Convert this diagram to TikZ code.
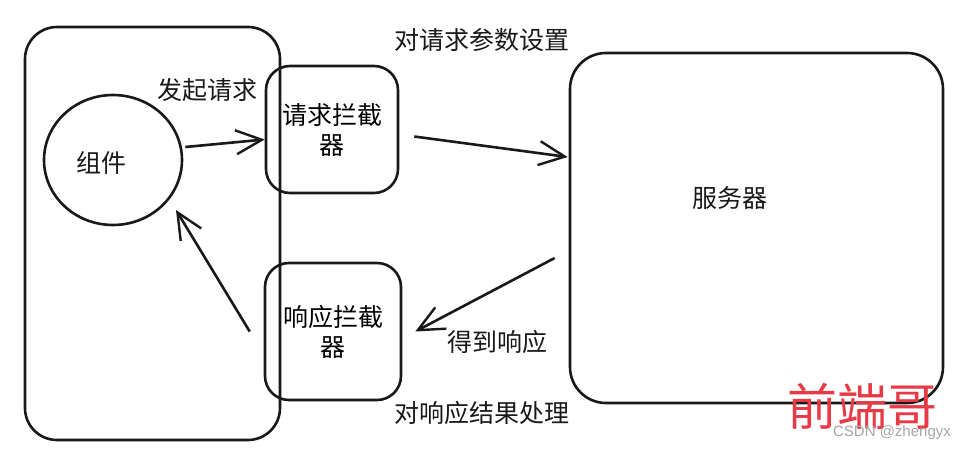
\documentclass[tikz,border=0pt]{standalone}
\usepackage{fontspec}
\setmainfont{Noto Sans CJK SC}
\newfontfamily\wmfont{Noto Sans CJK SC}
\newfontfamily\csdnfont{Liberation Sans}
\usetikzlibrary{arrows.meta,shapes.geometric}
\definecolor{ink}{RGB}{25,25,25}
\definecolor{wmred}{RGB}{232,58,70}
\tikzset{
  box/.style={draw=ink,line width=2.6pt,rounded corners=#1,inner sep=0pt,align=center,font=\fontsize{25}{30}\selectfont},
  lbl/.style={font=\fontsize{25}{30}\selectfont,text=ink,inner sep=0pt},
  arr/.style={draw=ink,line width=2.6pt,-{Straight Barb[length=26pt,width=24pt,line width=2.4pt]}},
}
\begin{document}
\begin{tikzpicture}[x=1pt,y=-1pt]
\useasboundingbox (0,0) rectangle (962,450);
\fill[white] (0,0) rectangle (962,450);
% containers
\node[box=32pt,minimum width=255pt,minimum height=413pt] (client) at (152.5,233.5) {};
\node[box=36pt,minimum width=373pt,minimum height=350pt] (server) at (756.5,228) {};
\node[lbl] (servertext) at (730,198) {服务器};
% component
\node[draw=ink,line width=2.6pt,ellipse,minimum width=138pt,minimum height=130pt,inner sep=0pt] (comp) at (113,160) {};
\node[lbl] (comptext) at (101,163) {组件};
% interceptors
\node[box=24pt,minimum width=132pt,minimum height=127pt] (req) at (332,129.5) {请求拦截\\器};
\node[box=24pt,minimum width=136pt,minimum height=137pt] (resp) at (333,331.5) {响应拦截\\器};
% labels
\node[lbl] (l1) at (207,90) {发起请求};
\node[lbl] (l2) at (482,40) {对请求参数设置};
\node[lbl] (l3) at (497,342) {得到响应};
\node[lbl] (l4) at (482,413) {对响应结果处理};
% connectors
\draw[arr] ([shift={(2pt,13pt)}]comp.east) -- ([yshift=-10pt]req.west);
\draw[arr] ([shift={(15pt,-7pt)}]req.east) -- ([shift={(-1pt,71pt)}]server.west);
\draw[arr] ([shift={(-14pt,-30pt)}]server.west) -- ([xshift=13pt]resp.east);
\draw[arr] ([xshift=-14pt]resp.west) -- ([shift={(63pt,-50pt)}]comp.center);
% watermark
\node[text=wmred,font=\wmfont\fontsize{50}{50}\selectfont,inner sep=0pt] (wm) at (862,406) {前端哥};
\node[text=black!35,font=\csdnfont\fontsize{15}{15}\selectfont,inner sep=0pt] (csdn) at (892,433) {CSDN @zhengyx};
\end{tikzpicture}
\end{document}
